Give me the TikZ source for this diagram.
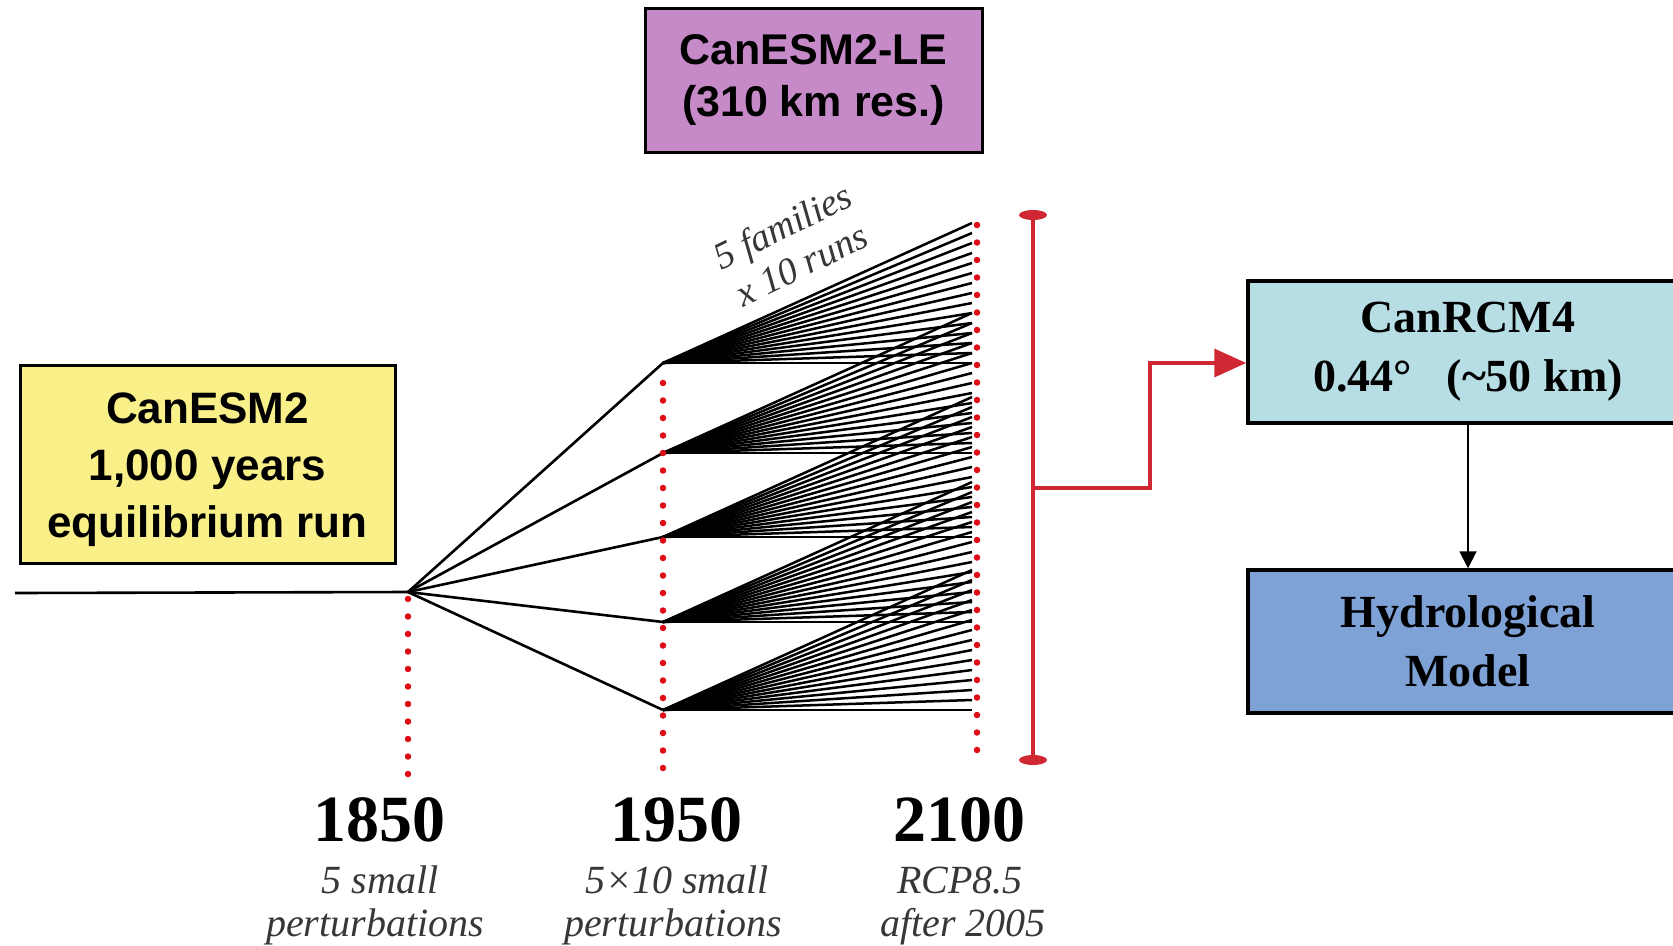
\documentclass[tikz,border=0pt]{standalone}
\usepackage{fontspec}
\setmainfont{Liberation Serif}
\setsansfont{Liberation Sans}
\usetikzlibrary{arrows.meta}
\definecolor{boxyellow}{RGB}{249,240,138}
\definecolor{boxpurple}{RGB}{199,138,201}
\definecolor{boxcyan}{RGB}{183,222,228}
\definecolor{boxblue}{RGB}{126,161,214}
\definecolor{dotred}{RGB}{222,10,20}
\definecolor{brred}{RGB}{208,40,50}
\definecolor{labgray}{RGB}{55,55,55}
\begin{document}
\begin{tikzpicture}[x=1pt,y=-1pt,
  box/.style={draw=black, line width=3pt, inner sep=0pt, align=center},
  sansbox/.style={box, font=\sffamily\bfseries\fontsize{44}{57}\selectfont},
  serifbox/.style={box, line width=3.5pt, font=\bfseries\fontsize{46}{59}\selectfont},
  year/.style={anchor=base, inner sep=0pt, font=\bfseries\fontsize{66}{70}\selectfont},
  lab/.style={anchor=base, inner sep=0pt, text=labgray, font=\itshape\fontsize{40}{44}\selectfont},
  fan/.style={draw=black, line width=2.5pt},
  branch/.style={draw=black, line width=2.6pt},
  dots/.style={draw=dotred, line width=6.5pt, line cap=round, dash pattern=on 0pt off 17.5pt},
  bracket/.style={draw=brred, line width=3.5pt}
]
\useasboundingbox (0,0) rectangle (1673,945);

% boxes
\node[box, fill=boxyellow, minimum width=375pt, minimum height=198pt] (esm) at (207.5,464) {};
\node[align=center, inner sep=0pt, font=\sffamily\bfseries\fontsize{44}{57}\selectfont]
  (esmtext) at (207.5,470) {CanESM2\\1,000 years\\equilibrium run};
\node[sansbox, fill=boxpurple, minimum width=337pt, minimum height=144pt,
      font=\sffamily\bfseries\fontsize{43}{52}\selectfont] (le) at (813.5,80)
  {CanESM2-LE\\(310 km res.)};
\node[serifbox, fill=boxcyan, minimum width=440pt, minimum height=142pt] (rcm) at (1468,352)
  {CanRCM4\\0.44°\ \ \ (\textasciitilde50 km)};
\node[serifbox, fill=boxblue, minimum width=440pt, minimum height=143pt] (hyd) at (1468,641.5)
  {Hydrological\\Model};

% time line and branches
\coordinate (start) at (15,593);
\coordinate (b) at (408,592);
\draw[branch] (start) -- (b);
\foreach \i/\y in {1/363,2/453,3/537,4/622,5/710} {
  \coordinate (f\i) at (663,\y);
  \draw[branch] (b) -- (f\i);
  \foreach \k in {0,...,14} {
    \draw[fan] (f\i) -- (972,{\y-10*\k});
  }
}

% dotted year markers
\coordinate (d1a) at (408,599);  \coordinate (d1b) at (408,775);
\coordinate (d2a) at (663,383);  \coordinate (d2b) at (663,770);
\coordinate (d3a) at (977,225);  \coordinate (d3b) at (977,762);
\draw[dots] (d1a) -- (d1b);
\draw[dots] (d2a) -- (d2b);
\draw[dots] (d3a) -- (d3b);

% bracket
\coordinate (bt) at (1033,215);
\coordinate (bb) at (1033,760);
\coordinate (bm) at (1033,488);
\draw[bracket] (bt) -- (bb);
\fill[brred] (bt) ellipse [x radius=14pt, y radius=5pt];
\fill[brred] (bb) ellipse [x radius=14pt, y radius=5pt];
\coordinate (elb) at (1150,488);
\draw[bracket, -{Triangle[length=32pt,width=28pt]}]
  (bm) -- (elb) |- ([yshift=-11pt]rcm.west);

% black arrow
\draw[line width=2pt, -{Triangle[length=17pt,width=17pt]}] (rcm.south) -- (hyd.north);

% rotated label
\node[inner sep=0pt, rotate=26, align=center, text=labgray,
      font=\itshape\fontsize{38}{43}\selectfont] (fam) at (792,245)
  {5 families\\x 10 runs};

% year labels
\node[year] (y1850) at (379,841) {1850};
\node[year] (y1950) at (676,841) {1950};
\node[year] (y2100) at (959,841) {2100};
\node[lab] (a1) at (380,893) {5 small};
\node[lab] (a2) at (375,936) {perturbations};
\node[lab] (b1) at (677,893) {5×10 small};
\node[lab] (b2) at (673,936) {perturbations};
\node[lab] (c1) at (960,893) {RCP8.5};
\node[lab] (c2) at (963,936) {after 2005};
\end{tikzpicture}
\end{document}
